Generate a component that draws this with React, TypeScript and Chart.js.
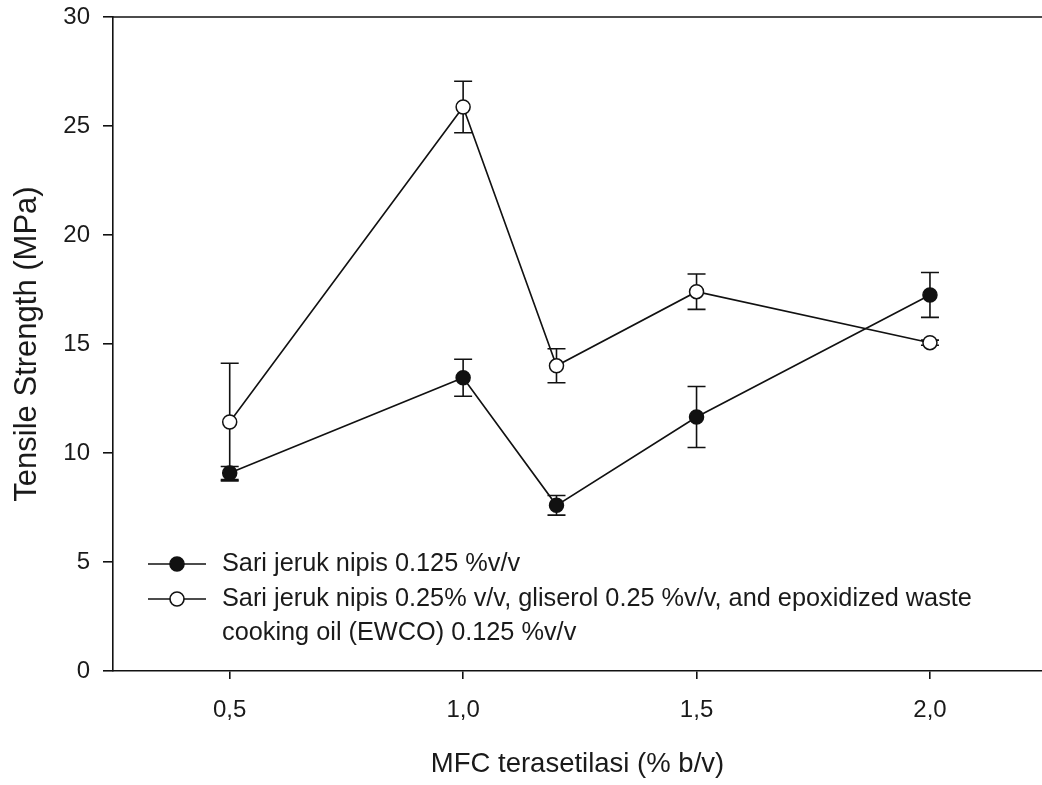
import React, { useEffect, useRef } from "react";
import { Chart, registerables } from "chart.js";

Chart.register(...registerables);

// ---- data ----
const xValues = [0.5, 1.0, 1.2, 1.5, 2.0];
const xTickValues = [0.5, 1.0, 1.5, 2.0];
const xTickLabels = ["0,5", "1,0", "1,5", "2,0"];
const yTickStep = 5;

const seriesALabel = ["Sari jeruk nipis 0.125 %v/v"];
const seriesAValues = [9.08, 13.45, 7.6, 11.65, 17.25];
const seriesAErrors = [0.3, 0.85, 0.45, 1.4, 1.03];

const seriesBLabel = [
  "Sari jeruk nipis 0.25% v/v, gliserol 0.25 %v/v, and epoxidized waste",
  "cooking oil (EWCO) 0.125 %v/v",
];
const seriesBValues = [11.42, 25.87, 14.0, 17.4, 15.06];
const seriesBErrors = [2.7, 1.18, 0.78, 0.81, 0.12];

const xTitle = "MFC terasetilasi (% b/v)";
const yTitle = "Tensile Strength (MPa)";

const FONT = "'Liberation Sans', Arial, Helvetica, sans-serif";

const errorBarPlugin = {
  id: "errorBars",
  beforeDatasetsDraw(chart: any) {
    const ctx = chart.ctx;
    const ys = chart.scales.y;
    ctx.save();
    ctx.strokeStyle = "#111";
    ctx.lineWidth = 1.6;
    chart.data.datasets.forEach((ds: any, di: number) => {
      const meta = chart.getDatasetMeta(di);
      meta.data.forEach((pt: any, i: number) => {
        const v = ds.data[i].y;
        const e = ds.errors[i];
        const x = pt.x;
        const yTop = ys.getPixelForValue(v + e);
        const yBot = ys.getPixelForValue(v - e);
        const cap = 9;
        ctx.beginPath();
        ctx.moveTo(x, yTop);
        ctx.lineTo(x, yBot);
        ctx.moveTo(x - cap, yTop);
        ctx.lineTo(x + cap, yTop);
        ctx.moveTo(x - cap, yBot);
        ctx.lineTo(x + cap, yBot);
        ctx.stroke();
      });
    });
    ctx.restore();
  },
};

const framePlugin = {
  id: "frame",
  afterDraw(chart: any) {
    const { ctx, chartArea } = chart;
    ctx.save();
    ctx.strokeStyle = "#111";
    ctx.lineWidth = 1.6;
    ctx.beginPath();
    ctx.moveTo(chartArea.left, chartArea.top);
    ctx.lineTo(chartArea.right, chartArea.top);
    ctx.stroke();
    ctx.restore();
  },
};

const legendPlugin = {
  id: "customLegend",
  afterDraw(chart: any) {
    const { ctx, chartArea } = chart;
    const x0 = chartArea.left + 35;
    const lineLen = 58;
    let y = chartArea.bottom - 107;
    const rowGap = 35;
    ctx.save();
    ctx.font = `25.3px ${FONT}`;
    ctx.textBaseline = "middle";
    ctx.textAlign = "left";
    chart.data.datasets.forEach((ds: any) => {
      ctx.strokeStyle = "#111";
      ctx.lineWidth = 1.6;
      ctx.beginPath();
      ctx.moveTo(x0, y);
      ctx.lineTo(x0 + lineLen, y);
      ctx.stroke();
      ctx.beginPath();
      ctx.arc(x0 + lineLen / 2, y, 7, 0, Math.PI * 2);
      ctx.fillStyle = ds.pointBackgroundColor;
      ctx.fill();
      ctx.stroke();
      ctx.fillStyle = "#1a1a1a";
      const lines: string[] = ds.label;
      lines.forEach((t: string, li: number) => {
        ctx.fillText(t, x0 + lineLen + 16, y + li * 34);
      });
      y += rowGap + (lines.length - 1) * 34;
    });
    ctx.restore();
  },
};

export default function App() {
  const canvasRef = useRef<HTMLCanvasElement | null>(null);

  useEffect(() => {
    if (!canvasRef.current) return;
    const mk = (vals: number[]) => vals.map((v, i) => ({ x: xValues[i], y: v }));
    const chart = new Chart(canvasRef.current, {
      type: "line",
      data: {
        datasets: [
          {
            label: seriesALabel as any,
            data: mk(seriesAValues),
            errors: seriesAErrors,
            borderColor: "#111",
            borderWidth: 1.6,
            pointRadius: 7,
            pointBorderWidth: 1.5,
            pointBackgroundColor: "#111",
            pointBorderColor: "#111",
            tension: 0,
          } as any,
          {
            label: seriesBLabel as any,
            data: mk(seriesBValues),
            errors: seriesBErrors,
            borderColor: "#111",
            borderWidth: 1.6,
            pointRadius: 7,
            pointBorderWidth: 1.5,
            pointBackgroundColor: "#ffffff",
            pointBorderColor: "#111",
            tension: 0,
          } as any,
        ],
      },
      options: {
        animation: false,
        responsive: true,
        maintainAspectRatio: false,
        layout: { autoPadding: false, padding: { top: 17, right: 0, left: 0, bottom: 0 } },
        plugins: {
          legend: { display: false },
          tooltip: { enabled: false },
        },
        scales: {
          x: {
            type: "linear",
            min: 0.25,
            max: 2.24,
            afterFit: (s: any) => {
              s.height = 114;
              s.paddingLeft = 0;
              s.paddingRight = 0;
            },
            afterBuildTicks: (s: any) => {
              s.ticks = xTickValues.map((v) => ({ value: v }));
            },
            border: { display: true, color: "#111", width: 1.6 },
            grid: { drawOnChartArea: false, drawTicks: true, tickLength: 8, color: "#111", lineWidth: 1.6 },
            ticks: {
              padding: 17,
              color: "#1a1a1a",
              font: { family: FONT, size: 24 },
              maxRotation: 0,
              callback: (val: any) => {
                const idx = xTickValues.findIndex((t) => Math.abs(t - Number(val)) < 1e-6);
                return idx >= 0 ? xTickLabels[idx] : "";
              },
            },
            title: {
              display: true,
              text: xTitle,
              color: "#1a1a1a",
              font: { family: FONT, size: 27.5 },
              padding: { top: 0, bottom: 4 },
            },
          },
          y: {
            type: "linear",
            min: 0,
            max: 30,
            afterFit: (s: any) => {
              s.width = 113;
              s.paddingTop = 0;
              s.paddingBottom = 0;
            },
            border: { display: true, color: "#111", width: 1.6 },
            grid: { drawOnChartArea: false, drawTicks: true, tickLength: 10, color: "#111", lineWidth: 1.6 },
            ticks: {
              stepSize: yTickStep,
              padding: 13,
              color: "#1a1a1a",
              font: { family: FONT, size: 24 },
            },
            title: {
              display: true,
              text: yTitle,
              color: "#1a1a1a",
              font: { family: FONT, size: 31 },
              padding: { top: 9, bottom: 0 },
            },
          },
        },
      } as any,
      plugins: [errorBarPlugin, framePlugin, legendPlugin],
    });
    return () => chart.destroy();
  }, []);

  return (
    <div style={{ position: "fixed", left: 0, top: 0, width: 1042, height: 785, background: "#ffffff" }}>
      <canvas ref={canvasRef} />
    </div>
  );
}
